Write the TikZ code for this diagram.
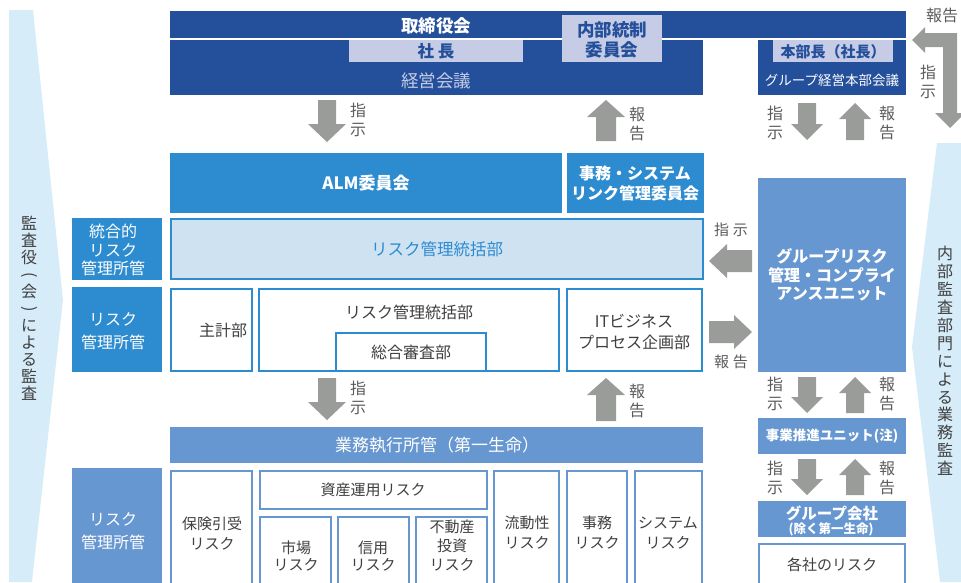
\documentclass[tikz,border=0pt]{standalone}
\usepackage{fontspec}
\setmainfont{Noto Sans CJK JP}
\definecolor{navy}{HTML}{234F9B}
\definecolor{midblue}{HTML}{2D8BD0}
\definecolor{lightfill}{HTML}{CFE2F1}
\definecolor{lavender}{HTML}{C6CCE5}
\definecolor{grpblue}{HTML}{6797D0}
\definecolor{agray}{HTML}{9A9C9A}
\definecolor{band}{HTML}{D6ECF8}
\definecolor{tgray}{HTML}{3F3F3F}
\newcommand\ArrDown[6]{\fill[agray] ({#1-#4},#2) -- ({#1+#4},#2) -- ({#1+#4},{#3-#6}) -- ({#1+#5},{#3-#6}) -- (#1,#3) -- ({#1-#5},{#3-#6}) -- ({#1-#4},{#3-#6}) -- cycle;}
\newcommand\ArrUp[6]{\fill[agray] ({#1-#4},#3) -- ({#1+#4},#3) -- ({#1+#4},{#2+#6}) -- ({#1+#5},{#2+#6}) -- (#1,#2) -- ({#1-#5},{#2+#6}) -- ({#1-#4},{#2+#6}) -- cycle;}
\newcommand\ArrLeft[6]{\fill[agray] (#3,{#1-#4}) -- (#3,{#1+#4}) -- ({#2+#6},{#1+#4}) -- ({#2+#6},{#1+#5}) -- (#2,#1) -- ({#2+#6},{#1-#5}) -- ({#2+#6},{#1-#4}) -- cycle;}
\newcommand\ArrRight[6]{\fill[agray] (#2,{#1-#4}) -- (#2,{#1+#4}) -- ({#3-#6},{#1+#4}) -- ({#3-#6},{#1+#5}) -- (#3,#1) -- ({#3-#6},{#1-#5}) -- ({#3-#6},{#1-#4}) -- cycle;}
\newcommand\VParen[1]{\rotatebox[origin=c]{-90}{#1}}
\begin{document}
\begin{tikzpicture}[x=1pt,y=-1pt,
  every node/.style={inner sep=0pt,text=tgray},
  f18/.style={font=\fontsize{17.5}{20}\selectfont},
  f17/.style={font=\fontsize{17}{20}\selectfont},
  f16/.style={font=\fontsize{16}{19}\selectfont},
  f15/.style={font=\fontsize{15}{19}\selectfont},
  f14/.style={font=\fontsize{13.5}{16}\selectfont},
  vlab/.style={align=center,font=\fontsize{16}{19}\selectfont,text=tgray!85},
  hlab/.style={font=\fontsize{15}{18}\selectfont,text=tgray!85},
  wbox/.style={draw=midblue,line width=2pt,fill=white},
  gbox/.style={draw=grpblue,line width=2pt,fill=white},
  wt/.style={text=white}]
\useasboundingbox (0,0) rectangle (961,582);
\clip (0,0) rectangle (961,582);
% side bands
\fill[band] (9,10) -- (33,10) -- (63,300) -- (32,582) -- (9,582) -- cycle;
\fill[band] (937,143) -- (961,143) -- (961,582) -- (940,582) -- (912,347) -- cycle;
\node[align=center,font=\fontsize{16}{17}\selectfont,text=tgray] (audit) at (29,308)
  {監\\査\\役\\\VParen{(}\\会\\\VParen{)}\\に\\よ\\る\\監\\査};
\node[align=center,font=\fontsize{16}{17.9}\selectfont,text=tgray] (internal) at (945,361)
  {内\\部\\監\\査\\部\\門\\に\\よ\\る\\業\\務\\監\\査};
% top block
\fill[navy] (170,11) rectangle (906,38);
\fill[navy] (170,40) rectangle (703,95);
\fill[navy] (758,40) rectangle (906,95);
\fill[lavender] (349,40) rectangle (523,62);
\fill[lavender] (562,15) rectangle (662,62);
\fill[lavender] (773,40) rectangle (893,62);
\node[wt,font=\bfseries\fontsize{17.5}{20}\selectfont] (board) at (436,26) {取締役会};
\node[text=navy,font=\bfseries\fontsize{16.5}{20}\selectfont] (pres) at (436,51) {社\hspace{4pt}長};
\node[f18,text=lavender] (mgmt) at (436,81) {経営会議};
\node[align=center,text=navy,font=\bfseries\fontsize{17.5}{20}\selectfont] (icc) at (612,40) {内部統制\\委員会};
\node[text=navy,font=\bfseries\fontsize{15}{18}\selectfont] (hq) at (833,52) {本部長（社長）};
\node[wt,font=\fontsize{13.5}{16}\selectfont] (grpmgmt) at (832,80) {グループ経営本部会議};
% L arrow
\fill[agray] (912,40) -- (925,27) -- (925,33) -- (957,33) -- (957,113) -- (965,113) -- (950,128)
  -- (935,113) -- (943,113) -- (943,47) -- (925,47) -- (925,53) -- cycle;
\node[hlab,font=\fontsize{16}{18}\selectfont] (lrep) at (942,15) {報告};
\node[vlab,font=\fontsize{16}{19}\selectfont] (lins) at (928,82) {指\\示};
% arrows row 1
\ArrDown{327}{100}{142}{9}{19}{18}
\ArrUp{606}{100}{141}{10}{19}{17}
\ArrDown{807}{103}{140}{9}{16}{16}
\ArrUp{855}{103}{140}{9}{16}{16}
\node[vlab] (i1) at (358,120) {指\\示};
\node[vlab] (r1) at (637,124) {報\\告};
\node[vlab] (i2) at (775,123) {指\\示};
\node[vlab] (r2) at (887,123) {報\\告};
% middle section
\fill[midblue] (170,153) rectangle (562,213);
\fill[midblue] (567,153) rectangle (704,213);
\fill[midblue] (72,218) rectangle (162,280);
\fill[midblue] (72,287) rectangle (162,372);
\node[wt,font=\bfseries\fontsize{17}{20}\selectfont] (alm) at (366,183) {ALM委員会};
\node[wt,align=center,font=\bfseries\fontsize{16}{20}\selectfont] (jimu) at (635,183) {事務・システム\\リンク管理委員会};
\node[wt,align=center,font=\fontsize{16}{18.5}\selectfont] (togo) at (113,250) {統合的\\リスク\\管理所管};
\node[wt,align=center,font=\fontsize{16}{23}\selectfont] (rk1) at (113,331) {リスク\\管理所管};
\filldraw[fill=lightfill,draw=midblue,line width=2pt] (171,219) rectangle (703,279);
\node[text=midblue,font=\fontsize{16.5}{20}\selectfont] (rmd) at (437,249) {リスク管理統括部};
\filldraw[wbox] (171,289) rectangle (252,371);
\filldraw[wbox] (259,289) rectangle (559,371);
\filldraw[wbox] (336,333) rectangle (486,371);
\filldraw[wbox] (567,289) rectangle (702,371);
\node[f16] (shukei) at (223,330) {主計部};
\node[f16] (rmd2) at (409,312) {リスク管理統括部};
\node[f16] (sogo) at (411,352) {総合審査部};
\node[align=center,font=\fontsize{16}{21}\selectfont] (itbp) at (634,332) {ITビジネス\\プロセス企画部};
% group risk
\fill[grpblue] (758,178) rectangle (906,372);
\node[wt,align=center,font=\bfseries\fontsize{16}{18.5}\selectfont] (grc) at (832,275) {グループリスク\\管理・コンプライ\\アンスユニット};
\ArrLeft{261}{709}{752}{11}{17}{18}
\ArrRight{332}{709}{752}{11}{17}{18}
\node[hlab] (i3) at (731,230) {指\hspace{4pt}示};
\node[hlab] (r3) at (731,362) {報\hspace{4pt}告};
% arrows row 2
\ArrDown{327}{378}{420}{9}{19}{18}
\ArrUp{606}{378}{421}{10}{19}{17}
\ArrDown{807}{377}{413}{9}{16}{16}
\ArrUp{855}{377}{413}{9}{16}{16}
\node[vlab] (i4) at (358,398) {指\\示};
\node[vlab] (r4) at (637,401) {報\\告};
\node[vlab] (i5) at (775,394) {指\\示};
\node[vlab] (r5) at (887,394) {報\\告};
% right lower column
\fill[grpblue] (758,418) rectangle (906,454);
\node[wt,font=\bfseries\fontsize{13.5}{16}\selectfont] (jigyo) at (832,436) {事業推進ユニット(注)};
\ArrDown{807}{459}{495}{9}{16}{16}
\ArrUp{855}{459}{495}{9}{16}{16}
\node[vlab] (i6) at (775,478) {指\\示};
\node[vlab] (r6) at (887,478) {報\\告};
\fill[grpblue] (758,501) rectangle (906,537);
\node[wt,font=\bfseries\fontsize{15.5}{18}\selectfont] (grpco) at (832,513) {グループ会社};
\node[wt,font=\bfseries\fontsize{12.5}{15}\selectfont] (jyoku) at (831,529) {(除く第一生命)};
\filldraw[gbox] (759,544) rectangle (905,600);
\node[f15] (kakusha) at (832,565) {各社のリスク};
% bottom section
\fill[grpblue] (170,427) rectangle (703,463);
\node[wt,font=\fontsize{17}{20}\selectfont] (gyomu) at (437,445) {業務執行所管（第一生命）};
\fill[grpblue] (72,468) rectangle (162,600);
\node[wt,align=center,font=\fontsize{16}{23}\selectfont] (rk2) at (113,531) {リスク\\管理所管};
\filldraw[gbox] (171,471) rectangle (252,600);
\filldraw[gbox] (260,471) rectangle (487,509);
\filldraw[gbox] (260,517) rectangle (331,600);
\filldraw[gbox] (338,517) rectangle (409,600);
\filldraw[gbox] (416,517) rectangle (487,600);
\filldraw[gbox] (494,471) rectangle (559,600);
\filldraw[gbox] (567,471) rectangle (627,600);
\filldraw[gbox] (635,471) rectangle (702,600);
\node[align=center,font=\fontsize{15}{20}\selectfont] (hoken) at (212,533) {保険引受\\リスク};
\node[f15] (shisan) at (373,490) {資産運用リスク};
\node[align=center,font=\fontsize{15}{17.5}\selectfont] (shijo) at (296,556) {市場\\リスク};
\node[align=center,font=\fontsize{15}{17.5}\selectfont] (shinyo) at (373,556) {信用\\リスク};
\node[align=center,font=\fontsize{15}{19}\selectfont] (fudosan) at (452,546) {不動産\\投資\\リスク};
\node[align=center,font=\fontsize{15}{20}\selectfont] (ryudo) at (527,533) {流動性\\リスク};
\node[align=center,font=\fontsize{15}{20}\selectfont] (jimur) at (597,533) {事務\\リスク};
\node[align=center,font=\fontsize{15}{20}\selectfont] (sysr) at (668,533) {システム\\リスク};
\end{tikzpicture}
\end{document}
